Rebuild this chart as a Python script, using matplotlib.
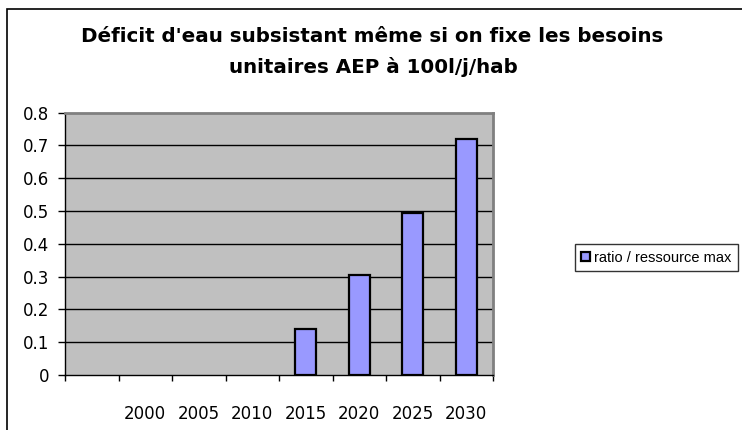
import matplotlib
matplotlib.use("Agg")
import matplotlib.pyplot as plt
import numpy as np
from matplotlib.patches import Rectangle

categories = ["", "2000", "2005", "2010", "2015", "2020", "2025", "2030"]
ratio_values = [np.nan, np.nan, np.nan, np.nan, 0.14, 0.305, 0.495, 0.72]
series_name = "ratio / ressource max"
title_lines = ["Déficit d'eau subsistant même si on fixe les besoins",
               "unitaires AEP à 100l/j/hab"]
yticks = [0, 0.1, 0.2, 0.3, 0.4, 0.5, 0.6, 0.7, 0.8]

plt.rcParams['font.family'] = ['DejaVu Sans']

W, H = 742, 430
fig = plt.figure(figsize=(W / 100, H / 100), dpi=100)
fig.patch.set_facecolor('white')

# plot area in pixels: left 65, right 493, top 112.7, bottom 375
l, r, t, b = 65, 493, 112.7, 375
ax = fig.add_axes([l / W, 1 - b / H, (r - l) / W, (b - t) / H])
ax.set_facecolor('#C0C0C0')

x = np.arange(len(categories)) + 0.5
bars = ax.bar(x, ratio_values, width=0.4, color='#9999FF', edgecolor='black',
              linewidth=1.6, label=series_name, zorder=3)

ax.set_xlim(0, len(categories))
ax.set_ylim(0, 0.8)
ax.set_yticks(yticks)
ax.set_yticklabels([("%g" % v) for v in yticks])
for v in yticks[1:-1]:
    ax.axhline(v, color='black', linewidth=1.0, zorder=1)

ax.set_xticks(np.arange(len(categories) + 1))
ax.set_xticklabels([])
ax.set_xticks(x, minor=True)
ax.set_xticklabels(categories, minor=True)
ax.tick_params(axis='x', which='major', direction='out', length=4.5, width=1, color='black')
ax.tick_params(axis='x', which='minor', length=0, pad=21.5, labelsize=12)
ax.tick_params(axis='y', direction='out', length=5, width=1, pad=6.5, labelsize=12)

for s in ['top', 'right']:
    ax.spines[s].set_color('#808080')
    ax.spines[s].set_linewidth(2)
for s in ['left', 'bottom']:
    ax.spines[s].set_color('black')
    ax.spines[s].set_linewidth(1)

fig.text(372 / W, 1 - 36 / H, title_lines[0], ha='center', va='center', fontsize=14.35,
         fontweight='bold')
fig.text(373 / W, 1 - 67 / H, title_lines[1], ha='center', va='center', fontsize=14.35,
         fontweight='bold')

leg = fig.legend(handles=[bars], labels=[series_name], loc='center left',
                 bbox_to_anchor=(575 / W, 1 - 257.5 / H), frameon=True, fancybox=False,
                 prop={'family': ['Liberation Sans'], 'size': 10.5},
                 handlelength=0.6, handleheight=0.6, handletextpad=0.3,
                 borderpad=0.42, borderaxespad=0)
leg.get_frame().set_edgecolor('black')
leg.get_frame().set_linewidth(1)

fig.add_artist(Rectangle((7 / W, -0.2), 2, 1.2 - 9 / H, transform=fig.transFigure,
                         fill=False, edgecolor='black', linewidth=1.2))

fig.savefig('out.png', dpi=100)
